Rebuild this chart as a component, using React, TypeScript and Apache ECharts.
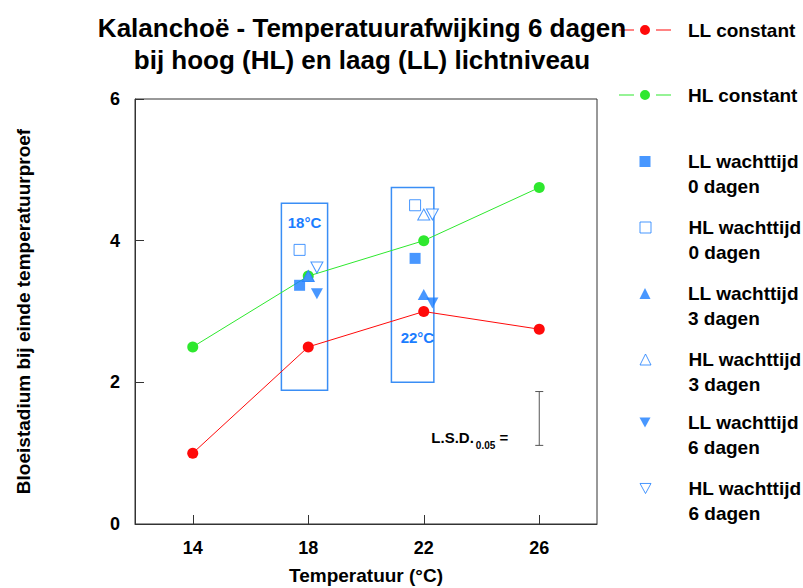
import React, { useEffect, useRef } from 'react';
import * as echarts from 'echarts';

const temperatures = [14, 18, 22, 26];
const llConstant = [1.0, 2.5, 3.0, 2.75];
const hlConstant = [2.5, 3.5, 4.0, 4.75];

const llWacht0 = [[17.7, 3.37], [21.7, 3.75]];
const hlWacht0 = [[17.7, 3.87], [21.7, 4.5]];
const llWacht3 = [[18.0, 3.5], [22.0, 3.24]];
const hlWacht3 = [[18.0, 3.5], [22.0, 4.37]];
const llWacht6 = [[18.3, 3.25], [22.3, 3.12]];
const hlWacht6 = [[18.3, 3.62], [22.3, 4.37]];

// [xFrom, xTo, yFrom, yTo]
const boxes = [[17.07, 18.67, 1.89, 4.53], [20.88, 22.35, 2.0, 4.75]];
const boxLabels = ['18°C', '22°C'];
const boxLabelAt = [[17.87, 4.25], [21.78, 2.64]];
// [x, low, high]
const lsdBar = [[26, 1.11, 1.87]];

const xTicks = [14, 18, 22, 26];

const FONT = '"Liberation Sans", Arial, Helvetica, sans-serif';
const BLUE = '#1a7dff';
const BOX_BLUE = '#3a8ef5';
const RED = '#ff0a0a';
const GREEN = '#2ee82e';
const DOWN_TRI = 'path://M0,0L12,0L6,11Z';
const LINE_ICON = 'path://M0,4.5h15v1h-15z M37,4.5h15v1h-15z M31,5a5,5 0 1,1 -10,0a5,5 0 1,1 10,0z';

const N_LL = 'LL constant';
const N_HL = 'HL constant';
const N_LL0 = 'LL wachttijd\n0 dagen';
const N_HL0 = 'HL wachttijd\n0 dagen';
const N_LL3 = 'LL wachttijd\n3 dagen';
const N_HL3 = 'HL wachttijd\n3 dagen';
const N_LL6 = 'LL wachttijd\n6 dagen';
const N_HL6 = 'HL wachttijd\n6 dagen';

export default function App() {
  const ref = useRef<HTMLDivElement>(null);

  useEffect(() => {
    if (!ref.current) return;
    const chart = echarts.init(ref.current, null, { renderer: 'svg' });

    const lineSeries = (name: string, vals: number[], color: string) => ({
      type: 'line',
      name,
      data: temperatures.map((t, i) => [t, vals[i]]),
      symbol: 'circle',
      symbolSize: 11,
      showSymbol: true,
      itemStyle: { color, borderWidth: 0 },
      lineStyle: { color, width: 1 },
      emphasis: { disabled: true },
      z: 3,
    });

    const scatter = (name: string, data: number[][], symbol: string, size: any, open: boolean) => ({
      type: 'scatter',
      name,
      data,
      symbol,
      symbolSize: size,
      itemStyle: open
        ? { color: '#ffffff', borderColor: BLUE, borderWidth: 1 }
        : { color: BLUE, borderWidth: 0 },
      emphasis: { disabled: true },
      z: 4,
    });

    const legendRows = [
      { name: N_LL, y: 30, kind: 'line', open: false },
      { name: N_HL, y: 95, kind: 'line', open: false },
      { name: N_LL0, y: 161, kind: 'sym', open: false },
      { name: N_HL0, y: 227, kind: 'sym', open: true },
      { name: N_LL3, y: 293, kind: 'sym', open: false },
      { name: N_HL3, y: 359, kind: 'sym', open: true },
      { name: N_LL6, y: 422, kind: 'sym', open: false },
      { name: N_HL6, y: 488, kind: 'sym', open: true },
    ];

    const legends = legendRows.map((r) => {
      const isLine = r.kind === 'line';
      return {
        data: [isLine ? { name: r.name, icon: LINE_ICON } : { name: r.name }],
        left: isLine ? 619 : 639.5,
        top: isLine ? r.y - 9.5 : r.y - 9,
        padding: 0,
        itemWidth: isLine ? 52 : 11,
        itemHeight: isLine ? 10 : 11,
        selectedMode: false,
        itemStyle: { borderWidth: r.open ? 1 : 0 },
        formatter: (name: string) => name.split('\n').map((s) => `{t|${s}}`).join('\n'),
        textStyle: {
          padding: isLine ? [0, 0, 0, 12] : [25, 0, 0, 32.5],
          rich: {
            t: { fontFamily: FONT, fontSize: 19, fontWeight: 'bold', lineHeight: 25, color: '#000' },
          },
        },
      };
    });

    const option: any = {
      animation: false,
      backgroundColor: '#ffffff',
      title: {
        text: 'Kalanchoë - Temperatuurafwijking 6 dagen\nbij hoog (HL) en laag (LL) lichtniveau',
        left: 362,
        top: 12,
        padding: 0,
        textAlign: 'center',
        textStyle: { fontFamily: FONT, fontSize: 26, fontWeight: 'bold', lineHeight: 32, color: '#000' },
      },
      legend: legends,
      grid: {
        left: 135,
        top: 99,
        width: 462,
        height: 425,
        outerBoundsMode: 'none',
        containLabel: false,
        show: true,
        borderColor: '#333',
        borderWidth: 1,
        backgroundColor: 'transparent',
      },
      xAxis: {
        type: 'value',
        min: 12,
        max: 28,
        name: 'Temperatuur (°C)',
        nameLocation: 'middle',
        nameGap: 42,
        nameTextStyle: { fontFamily: FONT, fontSize: 19, fontWeight: 'bold', color: '#000' },
        axisLine: { show: true, lineStyle: { color: '#333', width: 1 } },
        axisTick: { show: true, inside: true, length: 9, customValues: xTicks, lineStyle: { color: '#333' } },
        axisLabel: {
          customValues: xTicks,
          margin: 15,
          fontFamily: FONT,
          fontSize: 18,
          fontWeight: 'bold',
          color: '#000',
        },
        splitLine: { show: false },
      },
      yAxis: {
        type: 'value',
        min: 0,
        max: 6,
        interval: 2,
        name: 'Bloeistadium bij einde temperatuurproef',
        nameLocation: 'middle',
        nameRotate: 90,
        nameGap: 102,
        nameTextStyle: { fontFamily: FONT, fontSize: 19, fontWeight: 'bold', color: '#000' },
        axisLine: { show: true, lineStyle: { color: '#333', width: 1 } },
        axisTick: { show: true, inside: true, length: 9, lineStyle: { color: '#333' } },
        axisLabel: { margin: 15, fontFamily: FONT, fontSize: 18, fontWeight: 'bold', color: '#000' },
        splitLine: { show: false },
      },
      series: [
        {
          type: 'custom',
          name: 'boxes',
          data: boxes,
          encode: { x: [0, 1], y: [2, 3] },
          silent: true,
          z: 1,
          renderItem: (_params: any, api: any) => {
            const p0 = api.coord([api.value(0), api.value(3)]);
            const p1 = api.coord([api.value(1), api.value(2)]);
            return {
              type: 'rect',
              shape: { x: p0[0], y: p0[1], width: p1[0] - p0[0], height: p1[1] - p0[1] },
              style: { fill: 'none', stroke: BOX_BLUE, lineWidth: 1.5 },
            };
          },
        },
        {
          type: 'custom',
          name: 'boxLabels',
          data: boxLabelAt,
          encode: { x: 0, y: 1 },
          silent: true,
          z: 1,
          renderItem: (params: any, api: any) => {
            const p = api.coord([api.value(0), api.value(1)]);
            return {
              type: 'text',
              x: p[0],
              y: p[1],
              style: {
                text: boxLabels[params.dataIndex],
                fill: BLUE,
                font: `bold 15px ${FONT}`,
                align: 'center',
                verticalAlign: 'middle',
              },
            };
          },
        },
        lineSeries(N_LL, llConstant, RED),
        lineSeries(N_HL, hlConstant, GREEN),
        scatter(N_HL0, hlWacht0, 'rect', 11, true),
        scatter(N_LL0, llWacht0, 'rect', 11, false),
        scatter(N_HL3, hlWacht3, 'triangle', [12, 11], true),
        scatter(N_LL3, llWacht3, 'triangle', [12, 11], false),
        scatter(N_HL6, hlWacht6, DOWN_TRI, [12, 11], true),
        scatter(N_LL6, llWacht6, DOWN_TRI, [12, 11], false),
        {
          type: 'custom',
          name: 'LSD',
          data: lsdBar,
          encode: { x: 0, y: [1, 2] },
          silent: true,
          z: 2,
          renderItem: (_params: any, api: any) => {
            const top = api.coord([api.value(0), api.value(2)]);
            const bot = api.coord([api.value(0), api.value(1)]);
            const cap = 4;
            const st = { stroke: '#555', lineWidth: 1 };
            return {
              type: 'group',
              children: [
                { type: 'line', shape: { x1: top[0], y1: top[1], x2: bot[0], y2: bot[1] }, style: st },
                { type: 'line', shape: { x1: top[0] - cap, y1: top[1], x2: top[0] + cap, y2: top[1] }, style: st },
                { type: 'line', shape: { x1: bot[0] - cap, y1: bot[1], x2: bot[0] + cap, y2: bot[1] }, style: st },
                {
                  type: 'text',
                  x: bot[0] - 31,
                  y: bot[1] - 8,
                  style: {
                    text: '{a|L.S.D.}{b|0.05}{a| =}',
                    align: 'right',
                    verticalAlign: 'middle',
                    rich: {
                      a: { fontFamily: FONT, fontSize: 15, fontWeight: 'bold', color: '#000', lineHeight: 18, verticalAlign: 'middle' },
                      b: {
                        fontFamily: FONT,
                        fontSize: 10,
                        fontWeight: 'bold',
                        color: '#000',
                        lineHeight: 12,
                        verticalAlign: 'middle',
                        padding: [16, 0, 0, 2],
                      },
                    },
                  },
                },
              ],
            };
          },
        },
      ],
    };

    chart.setOption(option);
    return () => chart.dispose();
  }, []);

  return (
    <div
      ref={ref}
      style={{ position: 'absolute', left: 0, top: 0, width: 803, height: 588, background: '#fff' }}
    />
  );
}
